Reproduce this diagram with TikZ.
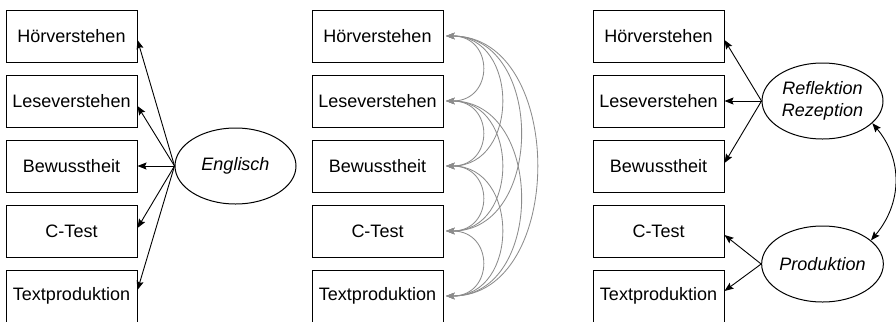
\documentclass[tikz,border=0pt]{standalone}
\usepackage{fontspec}
\setmainfont{Liberation Sans}
\usetikzlibrary{arrows.meta,shapes.geometric}
\definecolor{covgray}{RGB}{140,140,140}
\begin{document}
\begin{tikzpicture}[x=1pt,y=1pt,
  box/.style={draw, line width=1pt, minimum width=131pt, minimum height=52pt, inner sep=0pt, font=\fontsize{18}{22}\selectfont},
  lat/.style={draw, ellipse, line width=1pt, minimum width=121pt, minimum height=76pt, inner sep=0pt, align=center, font=\fontsize{18}{22}\selectfont\itshape},
  arr/.style={-{Stealth[length=9pt,width=7pt,inset=1.5pt]}, line width=0.9pt},
  darr/.style={{Stealth[length=9pt,width=7pt,inset=1.5pt]}-{Stealth[length=9pt,width=7pt,inset=1.5pt]}, line width=0.9pt},
  cov/.style={{Stealth[length=8.5pt,width=6.5pt,inset=1.5pt]}-{Stealth[length=8.5pt,width=6.5pt,inset=1.5pt]}, draw=covgray, line width=0.85pt, shorten <=2.5pt, shorten >=2.5pt}
]
\useasboundingbox (0,0) rectangle (896,-322);
\clip (0,0) rectangle (896,-321.3);
% left panel
\node[box] (a1) at (71.5,-36) {Hörverstehen};
\node[box] (a2) at (71.5,-101) {Leseverstehen};
\node[box] (a3) at (71.5,-166) {Bewusstheit};
\node[box] (a4) at (71.5,-231) {C-Test};
\node[box] (a5) at (71.5,-296) {Textproduktion};
\node[lat] (eng) at (235.5,-166) {Englisch};
\draw[arr] (eng.west) -- ([yshift=-4pt]a1.east);
\draw[arr] (eng.west) -- ([yshift=-5pt]a2.east);
\draw[arr] (eng.west) -- (a3.east);
\draw[arr] (eng.west) -- ([yshift=3pt]a4.east);
\draw[arr] (eng.west) -- ([yshift=6pt]a5.east);
% middle panel
\node[box] (m1) at (377.5,-36) {Hörverstehen};
\node[box] (m2) at (377.5,-101) {Leseverstehen};
\node[box] (m3) at (377.5,-166) {Bewusstheit};
\node[box] (m4) at (377.5,-231) {C-Test};
\node[box] (m5) at (377.5,-296) {Textproduktion};
\draw[cov] (m1.east) to[out=0,in=0,looseness=2.0] (m2.east);
\draw[cov] (m2.east) to[out=0,in=0,looseness=2.0] (m3.east);
\draw[cov] (m3.east) to[out=0,in=0,looseness=2.0] (m4.east);
\draw[cov] (m4.east) to[out=0,in=0,looseness=2.0] (m5.east);
\draw[cov] (m1.east) to[out=0,in=0,looseness=1.5] (m3.east);
\draw[cov] (m2.east) to[out=0,in=0,looseness=1.5] (m4.east);
\draw[cov] (m3.east) to[out=0,in=0,looseness=1.5] (m5.east);
\draw[cov] (m1.east) to[out=0,in=0,looseness=1.33] (m4.east);
\draw[cov] (m2.east) to[out=0,in=0,looseness=1.33] (m5.east);
\draw[cov] (m1.east) to[out=0,in=0,looseness=1.21] (m5.east);
% right panel
\node[box] (r1) at (658.5,-36) {Hörverstehen};
\node[box] (r2) at (658.5,-101) {Leseverstehen};
\node[box] (r3) at (658.5,-166) {Bewusstheit};
\node[box] (r4) at (658.5,-231) {C-Test};
\node[box] (r5) at (658.5,-296) {Textproduktion};
\node[lat] (refl) at (822.5,-101) {Reflektion\\Rezeption};
\node[lat] (prod) at (822.5,-264) {Produktion};
\draw[arr] (refl.west) -- ([yshift=-4pt]r1.east);
\draw[arr] (refl.west) -- (r2.east);
\draw[arr] (refl.west) -- ([yshift=3pt]r3.east);
\draw[arr] (prod.west) -- ([yshift=-4pt]r4.east);
\draw[arr] (prod.west) -- ([yshift=5pt]r5.east);
\draw[darr] (refl.-24) to[out=-50,in=50,looseness=1.05] (prod.26);
\end{tikzpicture}
\end{document}
